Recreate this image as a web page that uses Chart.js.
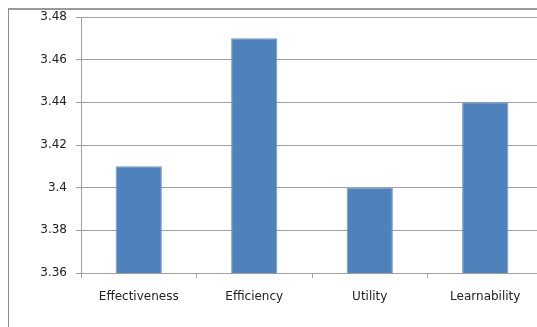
<!DOCTYPE html>
<html>
<head>
<meta charset="utf-8">
<script src="https://cdn.jsdelivr.net/npm/chart.js@4"></script>
<style>
    html, body { margin: 0; padding: 0; background: #fff; overflow: hidden; }
    #wrap { position: relative; width: 537px; height: 327px; overflow: hidden; }
    #frame { position: absolute; left: 8px; top: 8px; width: 600px; height: 400px;
             border-left: 1px solid #8c8c8c; border-top: 2px solid #9a9a9a; }
    #holder { position: absolute; left: 0; top: 0; width: 545px; height: 327px; }
</style>
</head>
<body>
<div id="wrap">
    <div id="frame"></div>
    <div id="holder"><canvas id="bar-chart" width="545" height="327"></canvas></div>
</div>
<script>
const categories = ["Effectiveness", "Efficiency", "Utility", "Learnability"];
const scores = [3.41, 3.47, 3.40, 3.44];
const y_min = 3.36;
const y_max = 3.48;
const y_step = 0.02;

const font_family = "'DejaVu Sans', sans-serif";

let bar_chart = new Chart(
    document.getElementById('bar-chart'),
    {
        type: 'bar',
        data: {
            labels: categories,
            datasets: [
                {
                    data: scores,
                    backgroundColor: '#4f81bd',
                    borderColor: '#6f96c8',
                    borderWidth: 1,
                    categoryPercentage: 0.8,
                    barPercentage: 0.5
                }
            ]
        },
        options: {
            responsive: false,
            animation: false,
            devicePixelRatio: 1,
            layout: {
                padding: { top: 17, right: 2, bottom: 0, left: 0 }
            },
            scales: {
                x: {
                    grid: {
                        drawOnChartArea: false,
                        offset: true,
                        tickLength: 5,
                        color: '#a0a0a0'
                    },
                    border: { color: '#a0a0a0' },
                    ticks: {
                        color: '#222',
                        padding: 12,
                        maxRotation: 0,
                        autoSkip: false,
                        font: { family: font_family, size: 12 }
                    },
                    afterFit: function (scale) {
                        scale.height = 54;
                    }
                },
                y: {
                    min: y_min,
                    max: y_max,
                    grid: {
                        color: '#a0a0a0',
                        tickLength: 5
                    },
                    border: { color: '#a0a0a0' },
                    ticks: {
                        stepSize: y_step,
                        autoSkip: false,
                        color: '#222',
                        padding: 9,
                        font: { family: font_family, size: 12 },
                        callback: function (value) {
                            return String(+value.toFixed(2));
                        }
                    },
                    afterFit: function (scale) {
                        scale.width = 81;
                    }
                }
            },
            plugins: {
                legend: { display: false },
                tooltip: { enabled: false }
            }
        }
    }
);
</script>
</body>
</html>
